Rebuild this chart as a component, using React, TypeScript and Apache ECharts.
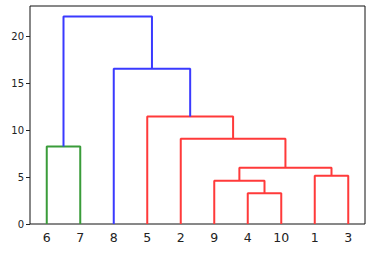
import React, { useEffect, useRef } from "react";
import * as echarts from "echarts";

// leaf labels in display order
const leafLabels = ["6", "7", "8", "5", "2", "9", "4", "10", "1", "3"];
// merges: child ids (0..9 leaves in display order, 10+k = k-th merge)
const mergeLeft = [0, 6, 5, 8, 12, 4, 3, 2, 10];
const mergeRight = [1, 7, 11, 9, 13, 14, 15, 16, 17];
const mergeHeight = [8.25, 3.26, 4.6, 5.14, 5.99, 9.07, 11.45, 16.52, 22.09];
const mergeColor = ["g", "r", "r", "r", "r", "r", "r", "b", "b"];
const yTicks = [0, 5, 10, 15, 20];

const palette: Record<string, string> = { g: "#3a9c3a", r: "#ff3a3a", b: "#3a3aff" };

export default function App() {
  const ref = useRef<HTMLDivElement>(null);
  useEffect(() => {
    const chart = echarts.init(ref.current!, null, { renderer: "svg" });
    const n = leafLabels.length;
    const xs: number[] = [];
    const hs: number[] = [];
    for (let i = 0; i < n; i++) {
      xs.push(5 + 10 * i);
      hs.push(0);
    }
    const series: any[] = [];
    mergeLeft.forEach((l, k) => {
      const r = mergeRight[k];
      const h = mergeHeight[k];
      series.push({
        type: "line",
        xAxisIndex: 0,
        yAxisIndex: 0,
        symbol: "none",
        lineStyle: { color: palette[mergeColor[k]], width: 2 },
        data: [
          [xs[l], hs[l]],
          [xs[l], h],
          [xs[r], h],
          [xs[r], hs[r]],
        ],
      });
      xs.push((xs[l] + xs[r]) / 2);
      hs.push(h);
    });
    chart.setOption({
      animation: false,
      textStyle: { fontFamily: "DejaVu Sans" },
      grid: {
        left: 30,
        right: 16,
        top: 6,
        bottom: 31,
        show: true,
        borderColor: "#111",
        borderWidth: 1,
      },
      xAxis: [
        {
          type: "value",
          min: 0,
          max: 100,
          axisLine: { show: false },
          axisTick: { show: false },
          axisLabel: { show: false },
          splitLine: { show: false },
        },
        {
          type: "category",
          data: leafLabels,
          position: "bottom",
          boundaryGap: true,
          axisLine: { show: false },
          axisTick: { show: false },
          axisLabel: { fontSize: 12.5, color: "#222", margin: 7, interval: 0 },
          splitLine: { show: false },
        },
      ],
      yAxis: {
        type: "value",
        min: 0,
        max: 23.2,
        interval: 5,
        axisLine: { show: false },
        axisTick: { show: true, length: 4, lineStyle: { color: "#222" }, customValues: yTicks },
        axisLabel: { fontSize: 10, color: "#222", margin: 6, customValues: yTicks },
        splitLine: { show: false },
      },
      series,
    });
    return () => chart.dispose();
  }, []);
  return <div ref={ref} style={{ width: 381, height: 255, position: "absolute", left: 0, top: 0 }} />;
}
